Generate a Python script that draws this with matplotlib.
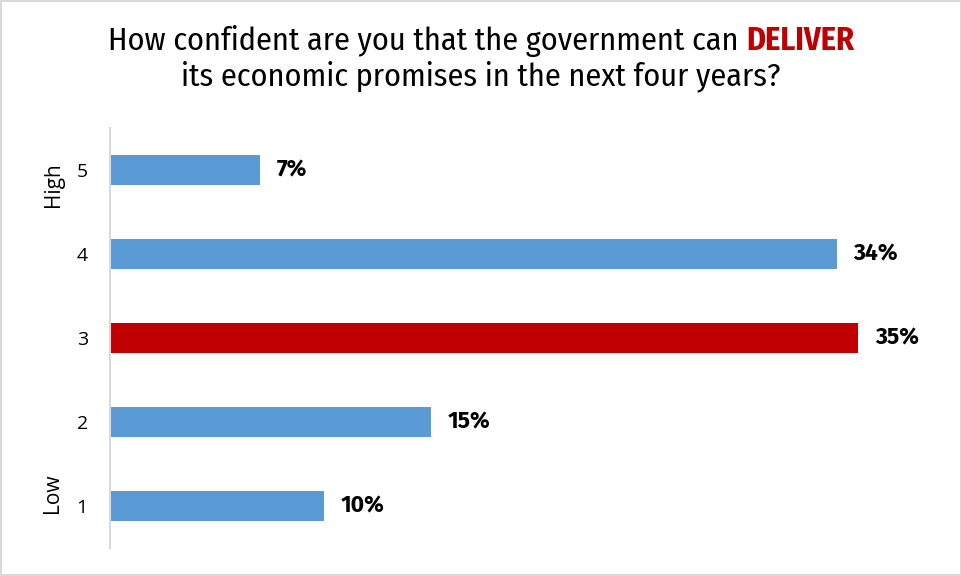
import matplotlib
matplotlib.use("Agg")
import matplotlib.pyplot as plt

levels = ["5", "4", "3", "2", "1"]
shares = [7, 34, 35, 15, 10]
bar_colors = ["#5B9BD5", "#5B9BD5", "#C00000", "#5B9BD5", "#5B9BD5"]
title_1 = "How confident are you that the government can "
title_hl = "DELIVER"
title_2 = "its economic promises in the next four years?"

fig = plt.figure(figsize=(9.62, 5.76), dpi=100)
fig.patch.set_edgecolor("#d9d9d9")
fig.patch.set_linewidth(1.5)

W, H = 962, 576
ax = fig.add_axes([110 / W, 1 - 548 / H, 830 / W, 420 / H])
ypos = list(range(len(levels)))
ax.barh(ypos, shares, height=0.36, color=bar_colors)
ax.set_ylim(len(levels) - 0.5, -0.5)
ax.set_xlim(0, 830 / 21.37)
ax.set_yticks(ypos)
ax.set_yticklabels(levels, fontsize=14, family="Open Sans")
ax.tick_params(axis="y", length=0, pad=16)
ax.set_xticks([])
for s in ["top", "right", "bottom"]:
    ax.spines[s].set_visible(False)
ax.spines["left"].set_color("#d9d9d9")
ax.spines["left"].set_linewidth(1.5)

for y, v in zip(ypos, shares):
    ax.annotate(f"{v}%", (v, y), xytext=(12, 0), textcoords="offset points",
                ha="left", va="center", fontsize=16.5, fontweight="bold",
                family="Fira Sans")

fig.text(53 / W, 1 - 185 / H, "High", rotation=90, ha="center", va="center",
         fontsize=15, family="Open Sans")
fig.text(53 / W, 1 - 493 / H, "Low", rotation=90, ha="center", va="center",
         fontsize=15, family="Open Sans")

# first title line is drawn in two pieces so DELIVER can be bold red
tfont = dict(fontsize=23.2, family="Fira Sans Condensed")
r = fig.canvas.get_renderer()
t1 = fig.text(0, 1 - 50 / H, title_1, va="baseline", **tfont)
t2 = fig.text(0, 1 - 50 / H, title_hl, fontweight="bold", color="#C00000",
              va="baseline", **tfont)
w1 = t1.get_window_extent(r).width
w2 = t2.get_window_extent(r).width
x0 = (W - (w1 + w2)) / 2
t1.set_x(x0 / W)
t2.set_x((x0 + w1) / W)
fig.text(0.5, 1 - 85 / H, title_2, ha="center", va="baseline", **tfont)

fig.savefig("out.png", dpi=100, edgecolor=fig.get_edgecolor())
